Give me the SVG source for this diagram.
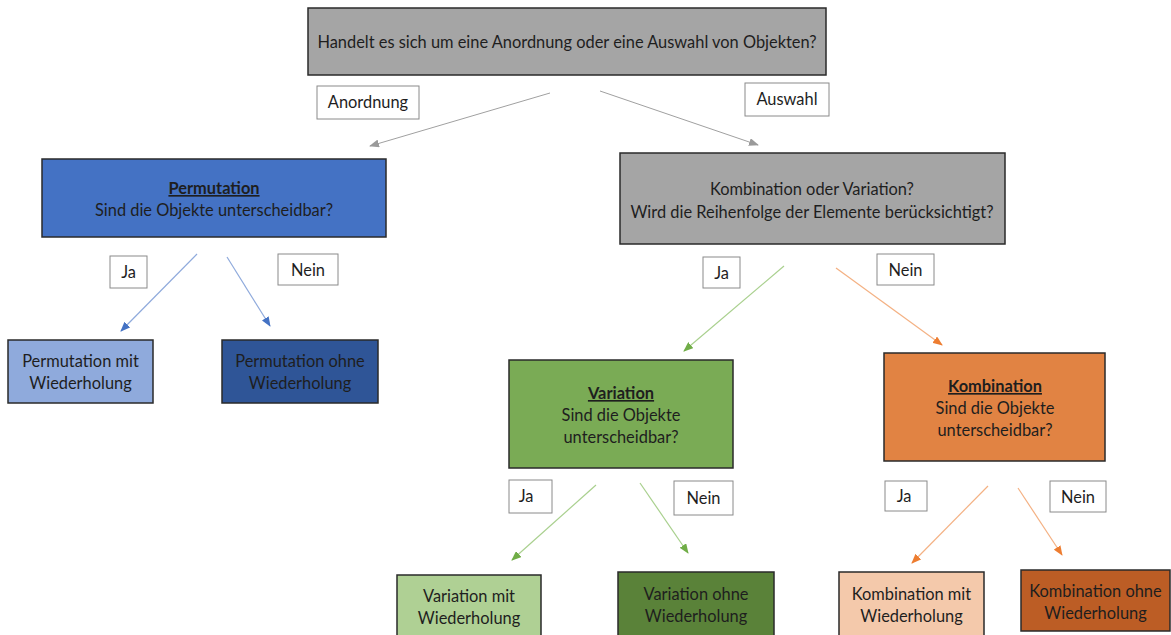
<svg xmlns="http://www.w3.org/2000/svg" width="1171" height="635" viewBox="0 0 1171 635">
<defs>
<style>
text{font-family:Lato,"Open Sans","Liberation Sans",sans-serif;font-size:16.4px;fill:#1e1e1e;text-anchor:middle}
.b{font-weight:bold;text-decoration:underline}
.node{stroke:#2a2a2a;stroke-width:1.5}
.lbl{fill:#fff;stroke:#8a8a8a;stroke-width:1}
.cg{stroke:#a0a0a0;stroke-width:1;fill:none}
.cb{stroke:#8faadc;stroke-width:1.2;fill:none}
.cgr{stroke:#a9d08e;stroke-width:1.2;fill:none}
.co{stroke:#f4b183;stroke-width:1.2;fill:none}
</style>
<marker id="ag" markerWidth="10" markerHeight="8" refX="9" refY="4" orient="auto" markerUnits="userSpaceOnUse"><path d="M0,0 L10,4 L0,8 z" fill="#9a9a9a"/></marker>
<marker id="ab" markerWidth="10" markerHeight="8" refX="9" refY="4" orient="auto" markerUnits="userSpaceOnUse"><path d="M0,0 L10,4 L0,8 z" fill="#4472c4"/></marker>
<marker id="agr" markerWidth="10" markerHeight="8" refX="9" refY="4" orient="auto" markerUnits="userSpaceOnUse"><path d="M0,0 L10,4 L0,8 z" fill="#70ad47"/></marker>
<marker id="ao" markerWidth="10" markerHeight="8" refX="9" refY="4" orient="auto" markerUnits="userSpaceOnUse"><path d="M0,0 L10,4 L0,8 z" fill="#ed7d31"/></marker>
</defs>
<rect width="1171" height="635" fill="#fff"/>

<g id="connectors">
<line class="cg" x1="550" y1="93" x2="370" y2="146" marker-end="url(#ag)"/>
<line class="cg" x1="600" y1="91" x2="758" y2="145" marker-end="url(#ag)"/>
<line class="cb" x1="197" y1="254" x2="121" y2="331" marker-end="url(#ab)"/>
<line class="cb" x1="227" y1="257" x2="270" y2="326" marker-end="url(#ab)"/>
<line class="cgr" x1="784" y1="266" x2="684" y2="351" marker-end="url(#agr)"/>
<line class="co" x1="836" y1="268" x2="942" y2="345" marker-end="url(#ao)"/>
<line class="cgr" x1="596" y1="485" x2="512" y2="560" marker-end="url(#agr)"/>
<line class="cgr" x1="640" y1="483" x2="688" y2="553" marker-end="url(#agr)"/>
<line class="co" x1="988" y1="486" x2="912" y2="563" marker-end="url(#ao)"/>
<line class="co" x1="1018" y1="488" x2="1062" y2="555" marker-end="url(#ao)"/>
</g>

<g id="labels">
<g id="lbl-anordnung"><rect class="lbl" x="317" y="86" width="102" height="33"/><text x="368" y="108">Anordnung</text></g>
<g id="lbl-auswahl"><rect class="lbl" x="745" y="83" width="84" height="33"/><text x="787" y="105">Auswahl</text></g>
<g id="lbl-p-ja"><rect class="lbl" x="110" y="256" width="37" height="32"/><text x="128.5" y="278">Ja</text></g>
<g id="lbl-p-nein"><rect class="lbl" x="278" y="254" width="60" height="31"/><text x="308" y="276">Nein</text></g>
<g id="lbl-k-ja"><rect class="lbl" x="703" y="257" width="37" height="31"/><text x="721.5" y="279">Ja</text></g>
<g id="lbl-k-nein"><rect class="lbl" x="877" y="254" width="57" height="31"/><text x="905.5" y="276">Nein</text></g>
<g id="lbl-v-ja"><rect class="lbl" x="509" y="480" width="43" height="33"/><text x="526" y="502">Ja</text></g>
<g id="lbl-v-nein"><rect class="lbl" x="674" y="481" width="59" height="34"/><text x="703.5" y="504">Nein</text></g>
<g id="lbl-ko-ja"><rect class="lbl" x="885" y="481" width="42" height="30"/><text x="904" y="502">Ja</text></g>
<g id="lbl-ko-nein"><rect class="lbl" x="1050" y="481" width="56" height="31"/><text x="1078" y="503">Nein</text></g>
</g>

<g id="n-root"><rect class="node" x="308" y="8" width="518" height="67" fill="#a5a5a5"/><text x="567" y="48">Handelt es sich um eine Anordnung oder eine Auswahl von Objekten?</text></g>
<g id="n-perm"><rect class="node" x="42" y="159" width="344" height="78" fill="#4472c4"/><text class="b" x="214" y="194">Permutation</text><text x="214" y="216">Sind die Objekte unterscheidbar?</text></g>
<g id="n-kv"><rect class="node" x="620" y="153" width="385" height="91" fill="#a5a5a5"/><text x="812" y="195">Kombination oder Variation?</text><text x="812" y="218">Wird die Reihenfolge der Elemente berücksichtigt?</text></g>
<g id="n-perm-mit"><rect class="node" x="8" y="340" width="145" height="63" fill="#8faadc"/><text x="80.5" y="367">Permutation mit</text><text x="80.5" y="389">Wiederholung</text></g>
<g id="n-perm-ohne"><rect class="node" x="222" y="340" width="156" height="63" fill="#2f5597"/><text x="300" y="367">Permutation ohne</text><text x="300" y="389">Wiederholung</text></g>
<g id="n-var"><rect class="node" x="509" y="360" width="224" height="108" fill="#7aab55"/><text class="b" x="621" y="399">Variation</text><text x="621" y="421">Sind die Objekte</text><text x="621" y="443">unterscheidbar?</text></g>
<g id="n-kom"><rect class="node" x="884" y="353" width="221" height="108" fill="#e18343"/><text class="b" x="995" y="392">Kombination</text><text x="995" y="414">Sind die Objekte</text><text x="995" y="436">unterscheidbar?</text></g>
<g id="n-var-mit"><rect class="node" x="397" y="575" width="144" height="66" fill="#afd094"/><text x="469" y="602">Variation mit</text><text x="469" y="624">Wiederholung</text></g>
<g id="n-var-ohne"><rect class="node" x="618" y="572" width="156" height="66" fill="#5a8239"/><text x="696" y="600">Variation ohne</text><text x="696" y="622">Wiederholung</text></g>
<g id="n-kom-mit"><rect class="node" x="839" y="572" width="145" height="66" fill="#f4c9ab"/><text x="911.5" y="600">Kombination mit</text><text x="911.5" y="622">Wiederholung</text></g>
<g id="n-kom-ohne"><rect class="node" x="1021" y="570" width="149" height="61" fill="#bc5d25"/><text x="1095.5" y="597">Kombination ohne</text><text x="1095.5" y="619">Wiederholung</text></g>
</svg>
